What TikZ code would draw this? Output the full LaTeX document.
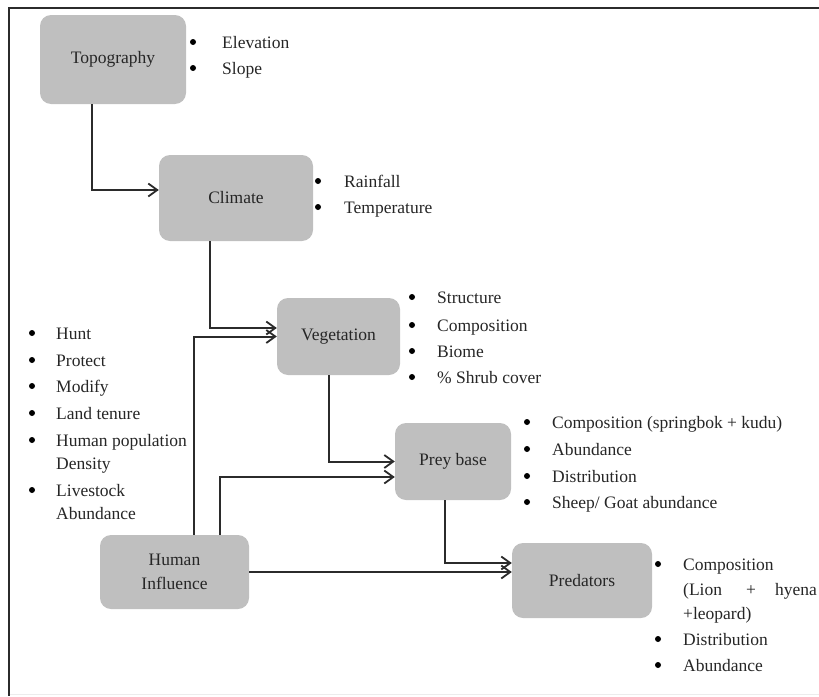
\documentclass[tikz,border=0pt]{standalone}
\usepackage{fontspec}
\setmainfont{Liberation Serif}
\usetikzlibrary{arrows.meta,calc}
\definecolor{boxgray}{HTML}{BFBFBF}
\definecolor{linedark}{HTML}{2B2B2B}
\tikzset{
  stagebox/.style={draw=none, fill=boxgray, rounded corners=11pt, inner sep=0pt, align=center,
    font=\fontsize{17.5}{23.5}\selectfont, text=black!85},
  item/.style={anchor=base west, inner sep=0pt, font=\fontsize{17.5}{23.5}\selectfont, text=black!85},
  conn/.style={draw=linedark, line width=2pt, -{Straight Barb[length=9pt,width=13pt,line width=1.8pt]}},
  bul/.style={fill=black, draw=none}
}
\newcommand{\bulletat}[2]{\fill[bul] (#1,#2-6) circle (3pt);}
\begin{document}
\begin{tikzpicture}[x=1pt,y=-1pt]
\useasboundingbox (0,0) rectangle (819,696);
% frame
\draw[draw=gray!15, line width=1pt] (9,694) -- (819,694);
\draw[draw=linedark, line width=2pt] (9,8) -- (819,8);
\draw[draw=linedark, line width=2pt] (9,7) -- (9,696);

% boxes
\node[stagebox, minimum width=146pt, minimum height=89pt] (topo) at (113,59.5) {Topography};
\node[stagebox, minimum width=154pt, minimum height=86pt] (clim) at (236,198) {Climate};
\node[stagebox, minimum width=123pt, minimum height=77pt] (veg) at (338.5,336.5) {Vegetation};
\node[stagebox, minimum width=116pt, minimum height=77pt] (prey) at (453,461.5) {Prey base};
\node[stagebox, minimum width=140pt, minimum height=75pt] (pred) at (582,580.5) {Predators};
\node[stagebox, minimum width=149pt, minimum height=74pt] (human) at (174.5,572) {Human\\Influence};

% connectors
\draw[conn] ([xshift=52pt]topo.south west) |- ([yshift=8pt]clim.west);
\draw[conn] ([xshift=51pt]clim.south west) |- ([yshift=8.5pt]veg.west);
\draw[conn] ([xshift=94pt]human.north west) |- (veg.west);
\draw[conn] ([xshift=52pt]veg.south west) |- (prey.west);
\draw[conn] ([xshift=120pt]human.north west) |- ([yshift=-15.5pt]prey.west);
\draw[conn] ([xshift=50pt]prey.south west) |- ([yshift=17.5pt]pred.west);
\draw[conn] (human.east) -- (human.east -| pred.west);

% Topography list
\bulletat{193}{48}\node[item] (t1) at (222,48) {Elevation};
\bulletat{193}{74}\node[item] (t2) at (222,74) {Slope};
% Climate list
\bulletat{318}{187}\node[item] (c1) at (344,187) {Rainfall};
\bulletat{318}{213}\node[item] (c2) at (344,213) {Temperature};
% Vegetation list
\bulletat{412}{303}\node[item] (v1) at (437,303) {Structure};
\bulletat{412}{331}\node[item] (v2) at (437,331) {Composition};
\bulletat{412}{357}\node[item] (v3) at (437,357) {Biome};
\bulletat{412}{383}\node[item] (v4) at (437,383) {\% Shrub cover};
% Human list
\bulletat{32}{339}\node[item] (h1) at (56,339) {Hunt};
\bulletat{32}{366}\node[item] (h2) at (56,366) {Protect};
\bulletat{32}{392}\node[item] (h3) at (56,392) {Modify};
\bulletat{32}{419}\node[item] (h4) at (56,419) {Land tenure};
\bulletat{32}{446}\node[item] (h5) at (56,446) {Human population};
\node[item] (h5b) at (56,469) {Density};
\bulletat{32}{496}\node[item] (h6) at (56,496) {Livestock};
\node[item] (h6b) at (56,519) {Abundance};
% Prey list
\bulletat{527}{428}\node[item] (p1) at (552,428) {Composition (springbok + kudu)};
\bulletat{527}{455}\node[item] (p2) at (552,455) {Abundance};
\bulletat{527}{482}\node[item] (p3) at (552,482) {Distribution};
\bulletat{527}{508}\node[item] (p4) at (552,508) {Sheep/ Goat abundance};
% Predators list
\bulletat{658}{570}\node[item] (d1) at (683,570) {Composition};
\node[item] (d1b) at (683,595) {(Lion};
\node[item, anchor=base] (d1c) at (751,595) {+};
\node[item, anchor=base east] (d1d) at (817,595) {hyena};
\node[item] (d1e) at (683,619) {+leopard)};
\bulletat{658}{645}\node[item] (d2) at (683,645) {Distribution};
\bulletat{658}{671}\node[item] (d3) at (683,671) {Abundance};
\end{tikzpicture}
\end{document}
